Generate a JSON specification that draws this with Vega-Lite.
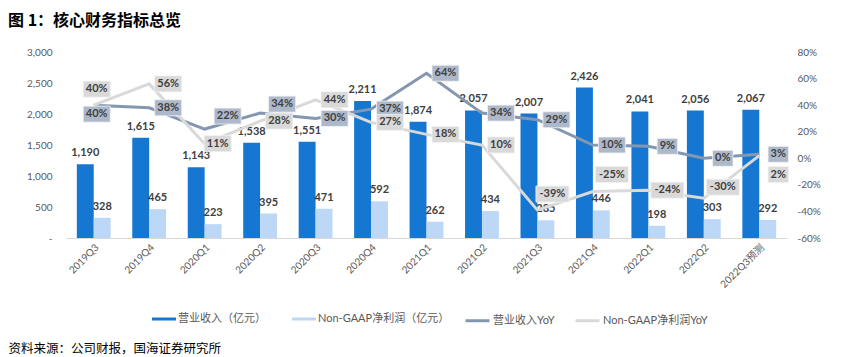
{
  "$schema": "https://vega.github.io/schema/vega-lite/v6.json",
  "autosize": "none",
  "width": 721,
  "height": 186,
  "padding": {"left": 66, "top": 52, "right": 55, "bottom": 119},
  "background": "white",
  "config": {"view": {"stroke": null}, "font": "Lato"},
  "title": {"text": "图 1：核心财务指标总览", "anchor": "start", "frame": "group", "dx": -58, "offset": 18, "font": "Noto Sans CJK SC", "fontSize": 16, "fontWeight": "bold", "color": "#000000"},
  "datasets": {
    "bars": [
      {"q": "2019Q3", "s": "营业收入（亿元）", "v": 1190}, {"q": "2019Q3", "s": "Non-GAAP净利润（亿元）", "v": 328},
      {"q": "2019Q4", "s": "营业收入（亿元）", "v": 1615}, {"q": "2019Q4", "s": "Non-GAAP净利润（亿元）", "v": 465},
      {"q": "2020Q1", "s": "营业收入（亿元）", "v": 1143}, {"q": "2020Q1", "s": "Non-GAAP净利润（亿元）", "v": 223},
      {"q": "2020Q2", "s": "营业收入（亿元）", "v": 1538}, {"q": "2020Q2", "s": "Non-GAAP净利润（亿元）", "v": 395},
      {"q": "2020Q3", "s": "营业收入（亿元）", "v": 1551}, {"q": "2020Q3", "s": "Non-GAAP净利润（亿元）", "v": 471},
      {"q": "2020Q4", "s": "营业收入（亿元）", "v": 2211}, {"q": "2020Q4", "s": "Non-GAAP净利润（亿元）", "v": 592},
      {"q": "2021Q1", "s": "营业收入（亿元）", "v": 1874}, {"q": "2021Q1", "s": "Non-GAAP净利润（亿元）", "v": 262},
      {"q": "2021Q2", "s": "营业收入（亿元）", "v": 2057}, {"q": "2021Q2", "s": "Non-GAAP净利润（亿元）", "v": 434},
      {"q": "2021Q3", "s": "营业收入（亿元）", "v": 2007}, {"q": "2021Q3", "s": "Non-GAAP净利润（亿元）", "v": 285},
      {"q": "2021Q4", "s": "营业收入（亿元）", "v": 2426}, {"q": "2021Q4", "s": "Non-GAAP净利润（亿元）", "v": 446},
      {"q": "2022Q1", "s": "营业收入（亿元）", "v": 2041}, {"q": "2022Q1", "s": "Non-GAAP净利润（亿元）", "v": 198},
      {"q": "2022Q2", "s": "营业收入（亿元）", "v": 2056}, {"q": "2022Q2", "s": "Non-GAAP净利润（亿元）", "v": 303},
      {"q": "2022Q3预测", "s": "营业收入（亿元）", "v": 2067}, {"q": "2022Q3预测", "s": "Non-GAAP净利润（亿元）", "v": 292}
    ],
    "lines": [
      {"q": "2019Q3", "s": "营业收入YoY", "v": 40}, {"q": "2019Q3", "s": "Non-GAAP净利润YoY", "v": 40},
      {"q": "2019Q4", "s": "营业收入YoY", "v": 38}, {"q": "2019Q4", "s": "Non-GAAP净利润YoY", "v": 56},
      {"q": "2020Q1", "s": "营业收入YoY", "v": 22}, {"q": "2020Q1", "s": "Non-GAAP净利润YoY", "v": 11},
      {"q": "2020Q2", "s": "营业收入YoY", "v": 34}, {"q": "2020Q2", "s": "Non-GAAP净利润YoY", "v": 28},
      {"q": "2020Q3", "s": "营业收入YoY", "v": 30}, {"q": "2020Q3", "s": "Non-GAAP净利润YoY", "v": 44},
      {"q": "2020Q4", "s": "营业收入YoY", "v": 37}, {"q": "2020Q4", "s": "Non-GAAP净利润YoY", "v": 27},
      {"q": "2021Q1", "s": "营业收入YoY", "v": 64}, {"q": "2021Q1", "s": "Non-GAAP净利润YoY", "v": 18},
      {"q": "2021Q2", "s": "营业收入YoY", "v": 34}, {"q": "2021Q2", "s": "Non-GAAP净利润YoY", "v": 10},
      {"q": "2021Q3", "s": "营业收入YoY", "v": 29}, {"q": "2021Q3", "s": "Non-GAAP净利润YoY", "v": -39},
      {"q": "2021Q4", "s": "营业收入YoY", "v": 10}, {"q": "2021Q4", "s": "Non-GAAP净利润YoY", "v": -25},
      {"q": "2022Q1", "s": "营业收入YoY", "v": 9}, {"q": "2022Q1", "s": "Non-GAAP净利润YoY", "v": -24},
      {"q": "2022Q2", "s": "营业收入YoY", "v": 0}, {"q": "2022Q2", "s": "Non-GAAP净利润YoY", "v": -30},
      {"q": "2022Q3预测", "s": "营业收入YoY", "v": 3}, {"q": "2022Q3预测", "s": "Non-GAAP净利润YoY", "v": 2}
    ]
  },
  "layer": [
    {
      "data": {"name": "bars"},
      "encoding": {
        "x": {
          "field": "q", "type": "nominal",
          "scale": {"domain": ["2019Q3","2019Q4","2020Q1","2020Q2","2020Q3","2020Q4","2021Q1","2021Q2","2021Q3","2021Q4","2022Q1","2022Q2","2022Q3预测"], "paddingInner": 0.39, "paddingOuter": 0.195},
          "axis": {
            "labelAngle": -45, "labelFontSize": 10, "labelColor": "#595959", "labelFont": "Lato, Noto Sans CJK SC",
            "ticks": false, "domainColor": "#D9D9D9", "domainWidth": 1, "labelPadding": 4, "grid": false,
            "title": "资料来源：公司财报，国海证券研究所", "titleX": -58, "titleY": 110, "titleAlign": "left", "titleAnchor": "start",
            "titleBaseline": "middle", "titleFont": "Noto Sans CJK SC", "titleFontSize": 12.5, "titleFontWeight": "normal", "titleColor": "#000000"
          }
        },
        "xOffset": {"field": "s", "type": "nominal", "scale": {"domain": ["营业收入（亿元）", "Non-GAAP净利润（亿元）"], "paddingInner": 0, "paddingOuter": 0}},
        "y": {
          "field": "v", "type": "quantitative",
          "scale": {"domain": [0, 3000], "nice": false},
          "axis": {"orient": "left", "values": [0, 500, 1000, 1500, 2000, 2500, 3000], "labelExpr": "datum.value == 0 ? '-' : format(datum.value, ',')",
                   "domain": false, "ticks": false, "grid": false, "labelPadding": 14, "labelColor": "#595959", "labelFontSize": 10, "labelFont": "Lato", "title": null}
        }
      },
      "layer": [
        {
          "mark": {"type": "bar"},
          "encoding": {
            "fill": {"field": "s", "type": "nominal",
                     "scale": {"domain": ["营业收入（亿元）", "Non-GAAP净利润（亿元）"], "range": ["#1677D2", "#BDD7F7"]},
                     "legend": {"orient": "none", "legendX": 86, "legendY": 255, "direction": "horizontal", "title": null,
                                "symbolType": "M-1,-0.125H1V0.125H-1Z", "symbolSize": 576, "symbolStrokeWidth": 0,
                                "labelFontSize": 11, "labelColor": "#595959", "labelFont": "Lato, Noto Sans CJK SC", "labelOffset": 2, "columnPadding": 26}}
          }
        },
        {
          "mark": {"type": "text", "dy": -11, "fontWeight": "bold", "fontSize": 11, "color": "#404040", "font": "Lato"},
          "encoding": {"text": {"field": "v", "type": "quantitative", "format": ","}}
        }
      ]
    },
    {
      "data": {"name": "lines"},
      "encoding": {
        "x": {"field": "q", "type": "nominal"},
        "y": {
          "field": "v", "type": "quantitative",
          "scale": {"domain": [-60, 80], "nice": false},
          "axis": {"orient": "right", "values": [-60, -40, -20, 0, 20, 40, 60, 80], "labelExpr": "datum.value + '%'",
                   "domain": false, "ticks": false, "grid": false, "labelPadding": 10, "labelColor": "#595959", "labelFontSize": 10, "labelFont": "Lato", "title": null}
        }
      },
      "layer": [
        {
          "mark": {"type": "line", "strokeWidth": 3},
          "encoding": {
            "stroke": {"field": "s", "type": "nominal",
                       "scale": {"domain": ["营业收入YoY", "Non-GAAP净利润YoY"], "range": ["#8497B0", "#D9D9D9"]},
                       "legend": {"orient": "none", "legendX": 398, "legendY": 255, "direction": "horizontal", "title": null,
                                  "symbolType": "stroke", "symbolSize": 576, "symbolStrokeWidth": 3,
                                  "labelFontSize": 11, "labelColor": "#595959", "labelFont": "Lato, Noto Sans CJK SC", "labelOffset": 2, "columnPadding": 14}}
          }
        },
        {
          "mark": {
            "type": "point", "filled": true, "size": 1089, "opacity": 1, "stroke": "#F2F2F2", "strokeWidth": 0.8,
            "shape": {"expr": "length(datum.v + '') >= 3 ? 'M-1,-0.485H1V0.485H-1Z' : length(datum.v + '') == 2 ? 'M-0.82,-0.485H0.82V0.485H-0.82Z' : 'M-0.62,-0.485H0.62V0.485H-0.62Z'"},
            "fill": {"expr": "datum.s == '营业收入YoY' ? '#ADB9CA' : '#D9D9D9'"},
            "xOffset": {"expr": "datum.s == '营业收入YoY' ? (datum.q == '2019Q3' ? 3 : datum.q == '2020Q1' ? 23 : datum.q == '2020Q2' ? 22 : 19) : (datum.q == '2019Q3' ? 3 : datum.q == '2020Q1' ? 13 : datum.q == '2021Q3' ? 15 : 19)"},
            "yOffset": {"expr": "datum.s == '营业收入YoY' ? (datum.q == '2019Q3' ? 9 : datum.q == '2020Q1' ? -13 : datum.q == '2020Q2' ? -9 : 0) : (datum.q == '2019Q3' ? -16 : datum.q == '2021Q3' ? -16 : datum.q == '2021Q4' ? -17 : datum.q == '2022Q2' ? -11 : datum.q == '2022Q3预测' ? 19 : 0)"}
          }
        },
        {
          "mark": {
            "type": "text", "fontWeight": "bold", "fontSize": 11, "color": "#404040", "font": "Lato",
            "text": {"expr": "datum.v + '%'"},
            "dx": {"expr": "datum.s == '营业收入YoY' ? (datum.q == '2019Q3' ? 3 : datum.q == '2020Q1' ? 23 : datum.q == '2020Q2' ? 22 : 19) : (datum.q == '2019Q3' ? 3 : datum.q == '2020Q1' ? 13 : datum.q == '2021Q3' ? 15 : 19)"},
            "dy": {"expr": "datum.s == '营业收入YoY' ? (datum.q == '2019Q3' ? 9 : datum.q == '2020Q1' ? -13 : datum.q == '2020Q2' ? -9 : 0) : (datum.q == '2019Q3' ? -16 : datum.q == '2021Q3' ? -16 : datum.q == '2021Q4' ? -17 : datum.q == '2022Q2' ? -11 : datum.q == '2022Q3预测' ? 19 : 0)"}
          }
        }
      ]
    }
  ],
  "resolve": {"scale": {"y": "independent"}}
}
